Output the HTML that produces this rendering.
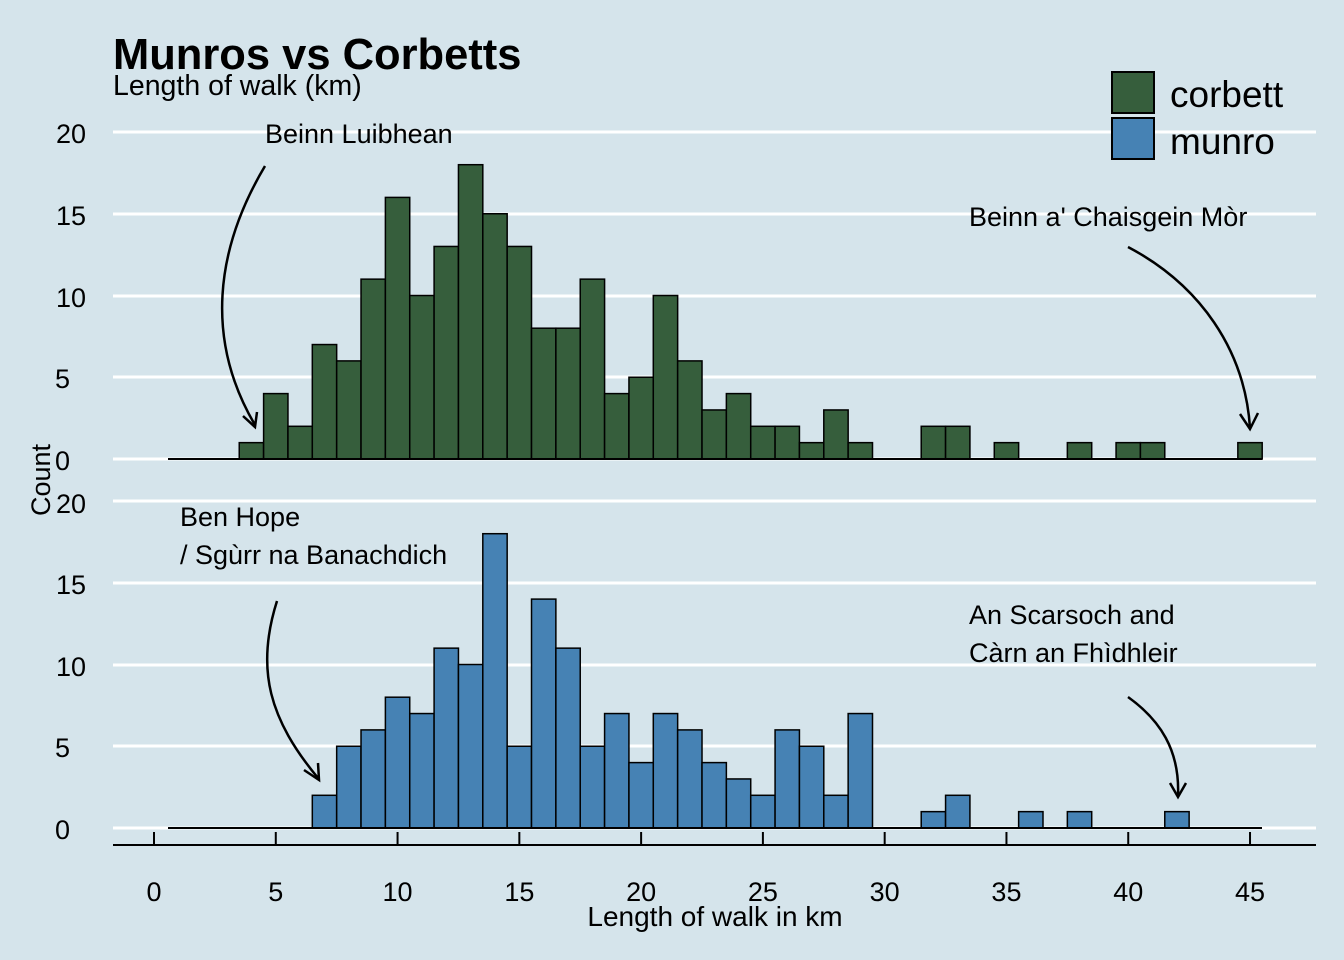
<!DOCTYPE html>
<html><head><style>body{margin:0;background:#d5e4eb}svg{display:block}text{font-family:"Liberation Sans",Arial,sans-serif;fill:#000}</style></head>
<body>
<svg width="1344" height="960" viewBox="0 0 1344 960" xmlns="http://www.w3.org/2000/svg">
<rect width="1344" height="960" fill="#d5e4eb"/>
<g id="grid" stroke="#fff" stroke-width="3">
<line x1="113" x2="1316" y1="132" y2="132"/><line x1="113" x2="1316" y1="214" y2="214"/><line x1="113" x2="1316" y1="296" y2="296"/><line x1="113" x2="1316" y1="377" y2="377"/><line x1="113" x2="1316" y1="459" y2="459"/>
<line x1="113" x2="1316" y1="501" y2="501"/><line x1="113" x2="1316" y1="583" y2="583"/><line x1="113" x2="1316" y1="665" y2="665"/><line x1="113" x2="1316" y1="746" y2="746"/><line x1="113" x2="1316" y1="828" y2="828"/>
</g>
<g id="bars" stroke="#000" stroke-width="1.5"></g>
<line x1="168" x2="1262" y1="459" y2="459" stroke="#000" stroke-width="2"/>
<line x1="168" x2="1262" y1="828" y2="828" stroke="#000" stroke-width="2"/>
<line x1="113" x2="1316" y1="845" y2="845" stroke="#000" stroke-width="2"/>
<g id="ticks" stroke="#000" stroke-width="2"></g>
<g font-size="27" text-anchor="middle" id="xl"></g>
<g font-size="27" text-anchor="end">
<text x="86" y="143">20</text><text x="86" y="225">15</text><text x="86" y="307">10</text><text x="70" y="388">5</text><text x="70" y="470">0</text>
<text x="86" y="513">20</text><text x="86" y="594">15</text><text x="86" y="676">10</text><text x="70" y="757">5</text><text x="70" y="839">0</text>
</g>
<text x="50" y="480" font-size="27" text-anchor="middle" transform="rotate(-90 50 480)">Count</text>
<text x="715" y="926" font-size="28" text-anchor="middle">Length of walk in km</text>
<text x="113" y="69" font-size="43.5" font-weight="bold">Munros vs Corbetts</text>
<text x="113" y="95" font-size="28.5">Length of walk (km)</text>
<rect x="1112" y="72" width="42" height="41" fill="#365e3c" stroke="#000" stroke-width="2"/>
<rect x="1112" y="118" width="42" height="41" fill="#4682b4" stroke="#000" stroke-width="2"/>
<text x="1170" y="107" font-size="37">corbett</text>
<text x="1170" y="154" font-size="37">munro</text>
<g font-size="27">
<text x="265" y="143">Beinn Luibhean</text>
<text x="969" y="226">Beinn a' Chaisgein Mòr</text>
<text x="180" y="526">Ben Hope</text>
<text x="180" y="564">/ Sgùrr na Banachdich</text>
<text x="969" y="624">An Scarsoch and</text>
<text x="969" y="662">Càrn an Fhìdhleir</text>
</g>
<g fill="none" stroke="#000" stroke-width="2.5">
<path d="M265 166 C215 250 205 340 255 425"/><path d="M243 416 L255 427 L257 412"/>
<path d="M1128 247 C1200 285 1245 350 1250 428"/><path d="M1240 414 L1250 429 L1258 413"/>
<path d="M277 601 C255 670 270 720 318 778"/><path d="M304 770 L319 780 L318 763"/>
<path d="M1128 697 C1160 720 1180 750 1178 796"/><path d="M1170 783 L1178 797 L1186 783"/>
</g>
</svg>
<script>
const ns="http://www.w3.org/2000/svg";
const px=k=>154+k*24.356;
const c={4:1,5:4,6:2,7:7,8:6,9:11,10:16,11:10,12:13,13:18,14:15,15:13,16:8,17:8,18:11,19:4,20:5,21:10,22:6,23:3,24:4,25:2,26:2,27:1,28:3,29:1,32:2,33:2,35:1,38:1,40:1,41:1,45:1};
const m={7:2,8:5,9:6,10:8,11:7,12:11,13:10,14:18,15:5,16:14,17:11,18:5,19:7,20:4,21:7,22:6,23:4,24:3,25:2,26:6,27:5,28:2,29:7,32:1,33:2,36:1,38:1,42:1};
const g=document.getElementById('bars');
function draw(d,base,col){for(const k in d){const r=document.createElementNS(ns,'rect');const h=d[k]*16.35;r.setAttribute('x',px(k-0.5));r.setAttribute('width',24.356);r.setAttribute('y',base-h);r.setAttribute('height',h);r.setAttribute('fill',col);g.appendChild(r);}}
draw(c,459,'#365e3c');draw(m,828,'#4682b4');
const t=document.getElementById('ticks'),xl=document.getElementById('xl');
for(let v=0;v<=45;v+=5){const l=document.createElementNS(ns,'line');l.setAttribute('x1',px(v));l.setAttribute('x2',px(v));l.setAttribute('y1',832);l.setAttribute('y2',845);t.appendChild(l);
const tx=document.createElementNS(ns,'text');tx.setAttribute('x',px(v));tx.setAttribute('y',901);tx.textContent=v;xl.appendChild(tx);}
</script>
</body></html>
